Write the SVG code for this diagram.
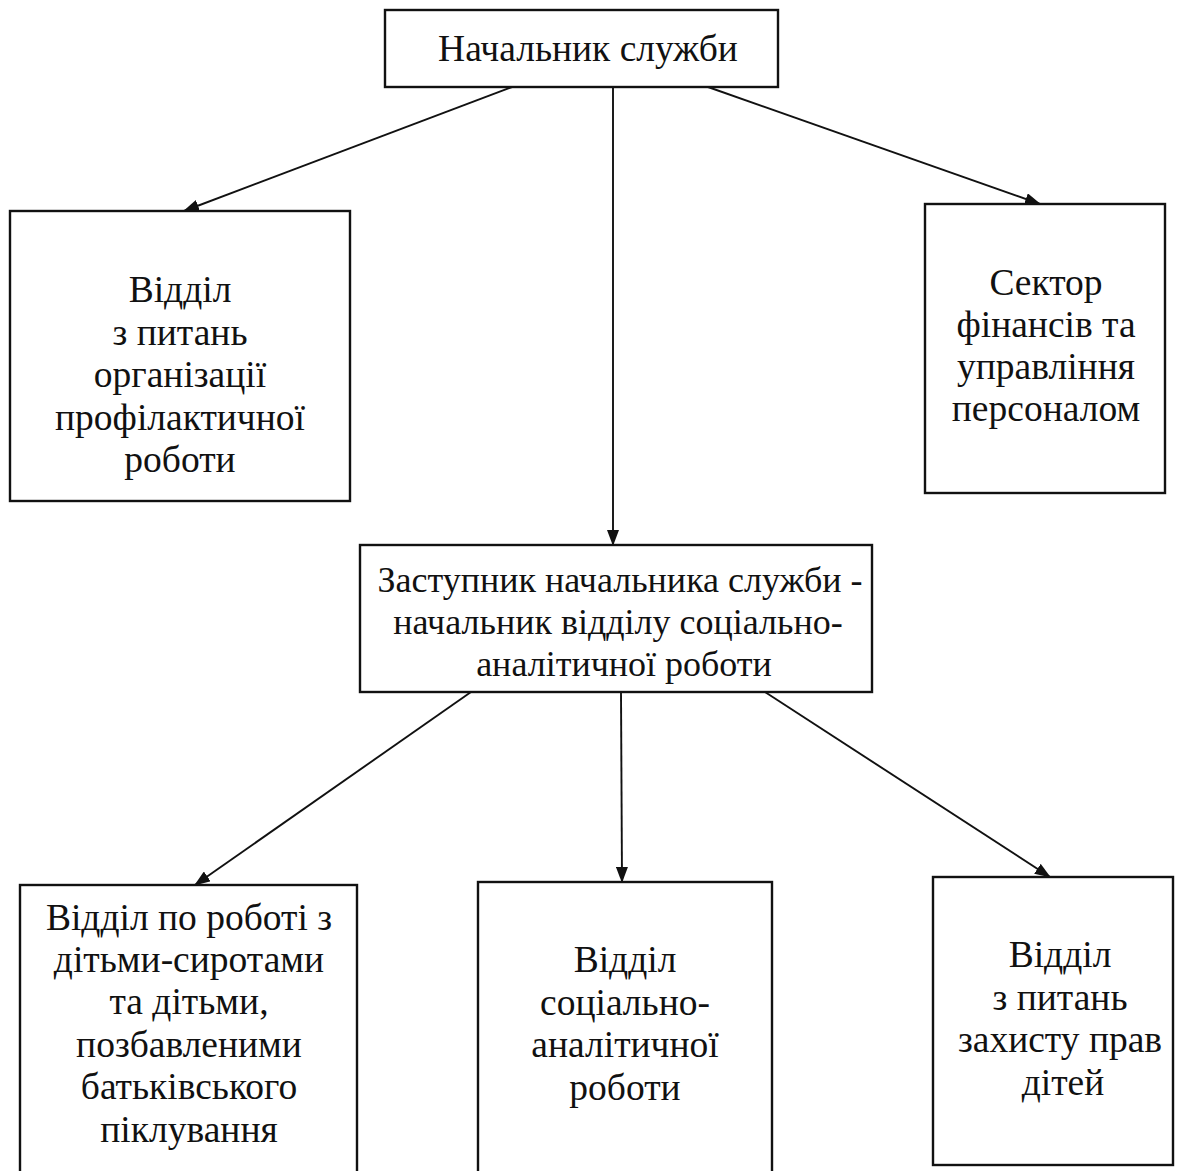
<svg xmlns="http://www.w3.org/2000/svg" width="1194" height="1171" viewBox="0 0 1194 1171">
<defs>
<marker id="arr" markerWidth="16" markerHeight="12" refX="15" refY="6" orient="auto" markerUnits="userSpaceOnUse">
<path d="M0,0 L16,6 L0,12 Z" fill="#111"/>
</marker>
<style>
.box{fill:#fff;stroke:#111;stroke-width:2.4}
.t{font-family:"Liberation Serif","Times New Roman",serif;font-size:37.5px;fill:#111;text-anchor:middle}
.m{font-size:36px}
.c{stroke:#111;stroke-width:1.9;fill:none;marker-end:url(#arr)}
</style>
</defs>
<rect width="1194" height="1171" fill="#fff"/>
<g id="connectors">
<line class="c" x1="512" y1="87" x2="184" y2="211"/>
<line class="c" x1="613" y1="87" x2="613" y2="545"/>
<line class="c" x1="708" y1="87" x2="1040" y2="204"/>
<line class="c" x1="471" y1="692" x2="195" y2="885"/>
<line class="c" x1="621" y1="692" x2="622" y2="882"/>
<line class="c" x1="765" y1="692" x2="1050" y2="877"/>
</g>
<g id="n_head">
<rect class="box" x="385" y="10" width="393" height="77"/>
<text class="t" x="588" y="61">Начальник служби</text>
</g>
<g id="n_prof">
<rect class="box" x="10" y="211" width="340" height="290"/>
<text class="t" x="180" y="302">Відділ</text>
<text class="t" x="180" y="345">з питань</text>
<text class="t" x="180" y="387">організації</text>
<text class="t" x="180" y="430">профілактичної</text>
<text class="t" x="180" y="472">роботи</text>
</g>
<g id="n_fin">
<rect class="box" x="925" y="204" width="240" height="289"/>
<text class="t" x="1046" y="295">Сектор</text>
<text class="t" x="1046" y="337">фінансів та</text>
<text class="t" x="1046" y="379">управління</text>
<text class="t" x="1046" y="421">персоналом</text>
</g>
<g id="n_deputy">
<rect class="box" x="360" y="545" width="512" height="147"/>
<text class="t m" x="620" y="592">Заступник начальника служби -</text>
<text class="t m" x="618" y="634">начальник відділу соціально-</text>
<text class="t m" x="624" y="676">аналітичної роботи</text>
</g>
<g id="n_orph">
<rect class="box" x="20" y="885" width="337" height="300"/>
<text class="t" x="189" y="930">Відділ по роботі з</text>
<text class="t" x="189" y="972">дітьми-сиротами</text>
<text class="t" x="189" y="1014">та дітьми,</text>
<text class="t" x="189" y="1057">позбавленими</text>
<text class="t" x="189" y="1099">батьківського</text>
<text class="t" x="189" y="1142">піклування</text>
</g>
<g id="n_soc">
<rect class="box" x="478" y="882" width="294" height="300"/>
<text class="t" x="625" y="972">Відділ</text>
<text class="t" x="625" y="1015">соціально-</text>
<text class="t" x="625" y="1057">аналітичної</text>
<text class="t" x="625" y="1100">роботи</text>
</g>
<g id="n_rights">
<rect class="box" x="933" y="877" width="240" height="288"/>
<text class="t" x="1060" y="967">Відділ</text>
<text class="t" x="1060" y="1010">з питань</text>
<text class="t" x="1060" y="1052">захисту прав</text>
<text class="t" x="1063" y="1095">дітей</text>
</g>
</svg>
